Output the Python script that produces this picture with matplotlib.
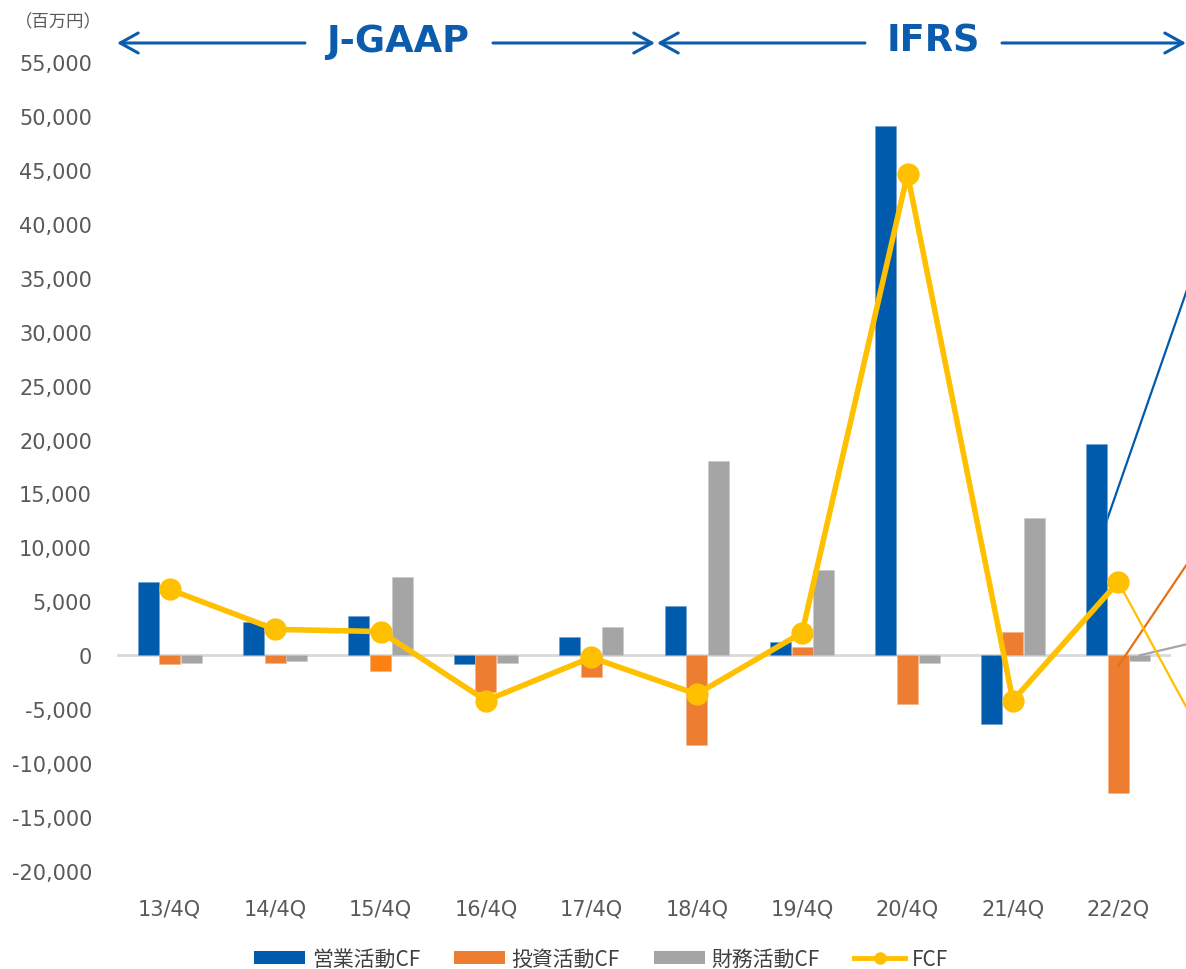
import matplotlib
matplotlib.use("Agg")
import matplotlib.pyplot as plt
from matplotlib.patches import Patch, FancyArrowPatch
from matplotlib.lines import Line2D
import numpy as np

# ---- data (百万円) ----
categories = ["13/4Q", "14/4Q", "15/4Q", "16/4Q", "17/4Q",
              "18/4Q", "19/4Q", "20/4Q", "21/4Q", "22/2Q"]
operating_cf = [6800, 3100, 3600, -800, 1700, 4600, 1200, 49100, -6400, 19600]
investing_cf = [-800, -700, -1500, -3400, -2000, -8300, 800, -4500, 2200, -12800]
financing_cf = [-700, -500, 7300, -700, 2600, 18000, 7900, -700, 12700, -500]
fcf = [6100, 2400, 2200, -4200, -200, -3600, 2100, 44600, -4200, 6800]

# segments running on past the last period (start value, value one period later)
operating_tail = [9800, 37900]
investing_tail = [-1000, 13500]
financing_tail = [0, 2300]
fcf_tail = [6800, -11200]

y_ticks = list(range(-20000, 55001, 5000))

# ---- style ----
BLUE = "#005BAC"
ORANGE = "#ED7D31"
ORANGE_DARK = "#E8700F"
GRAY = "#A5A5A5"
YELLOW = "#FFC000"
TEXT = "#595959"
ARROW = "#0B5CAD"

W, H = 1186, 970
fig = plt.figure(figsize=(W / 100, H / 100), dpi=100)
ax = fig.add_axes([117 / W, (H - 872) / H, (1171 - 117) / W, (872 - 63) / H])

x = np.arange(len(categories))
bw = 0.2
off = 0.205

inv_colors = [ORANGE] * len(categories)
inv_colors[2] = "#FC8012"

ax.bar(x - off, operating_cf, bw, color=BLUE, edgecolor="#6F9FD0", linewidth=0.4, zorder=3)
ax.bar(x, investing_cf, bw, color=inv_colors, edgecolor="#F4B183", linewidth=0.4, zorder=3)
ax.bar(x + off, financing_cf, bw, color=GRAY, edgecolor="#C9C9C9", linewidth=0.4, zorder=3)

# thin continuation segments past the last period
last = len(categories) - 1
ax.plot([last - off, last + 1 - off], operating_tail, color=BLUE, lw=1.6,
        zorder=2, clip_on=False)
ax.plot([last, last + 1], investing_tail, color=ORANGE_DARK, lw=1.6,
        zorder=4, clip_on=False)
ax.plot([last + off, last + 1 + off], financing_tail, color=GRAY, lw=1.6,
        zorder=4, clip_on=False)
ax.plot([last, last + 1], fcf_tail, color=YELLOW, lw=1.6, zorder=4, clip_on=False)

# zero line
ax.axhline(0, color="#D9D9D9", lw=2, zorder=2)

# FCF line
ax.plot(x, fcf, color=YELLOW, lw=4, marker="o", markersize=15,
        markerfacecolor=YELLOW, markeredgecolor=YELLOW, zorder=5)

ax.set_xlim(-0.5, len(categories) - 0.5)
ax.set_ylim(-20000, 55000)
ax.set_yticks(y_ticks)
ax.set_yticklabels([f"{v:,}" for v in y_ticks])
ax.set_xticks(x)
ax.set_xticklabels(categories)
ax.tick_params(axis="y", length=0, pad=18, labelsize=15, labelcolor=TEXT)
ax.tick_params(axis="x", length=0, pad=20, labelsize=15, labelcolor=TEXT)
for s in ax.spines.values():
    s.set_visible(False)

# unit label
fig.text(15 / W, 1 - 22 / H, "（百万円）", fontsize=12.5, color=TEXT,
         family=["Noto Sans CJK JP", "DejaVu Sans"], ha="left", va="center")

# accounting standard headers with arrows
fig.text(398 / W, 1 - 41 / H, "J-GAAP", fontsize=26.5, fontweight="bold",
         color=ARROW, ha="center", va="center")
fig.text(933 / W, 1 - 41 / H, "IFRS", fontsize=26.5, fontweight="bold",
         color=ARROW, ha="center", va="center")

ay = H - 44
arrow_kw = dict(arrowstyle="->,head_length=1.3,head_width=0.72", color=ARROW,
                lw=2.2, shrinkA=0, shrinkB=0, mutation_scale=10)
for tail, head in [(305, 117), (493, 655), (865, 657), (1002, 1186)]:
    fig.add_artist(FancyArrowPatch((tail, ay), (head, ay), transform=None, **arrow_kw))

# legend
handles = [
    Patch(facecolor=BLUE, edgecolor="none"),
    Patch(facecolor=ORANGE, edgecolor="none"),
    Patch(facecolor=GRAY, edgecolor="none"),
    Line2D([0], [0], color=YELLOW, lw=3.5, marker="o", markersize=8),
]
labels = ["営業活動CF", "投資活動CF", "財務活動CF", "FCF"]
leg = fig.legend(handles, labels, loc="center", ncol=4,
                 bbox_to_anchor=(601 / W, 1 - 960 / H), frameon=False,
                 prop={"family": ["Noto Sans CJK JP", "DejaVu Sans"], "size": 15},
                 handlelength=2.45, handleheight=0.62, handletextpad=0.3,
                 columnspacing=1.65, numpoints=1)
for t in leg.get_texts():
    t.set_color("#404040")

fig.savefig("out.png", dpi=100)
